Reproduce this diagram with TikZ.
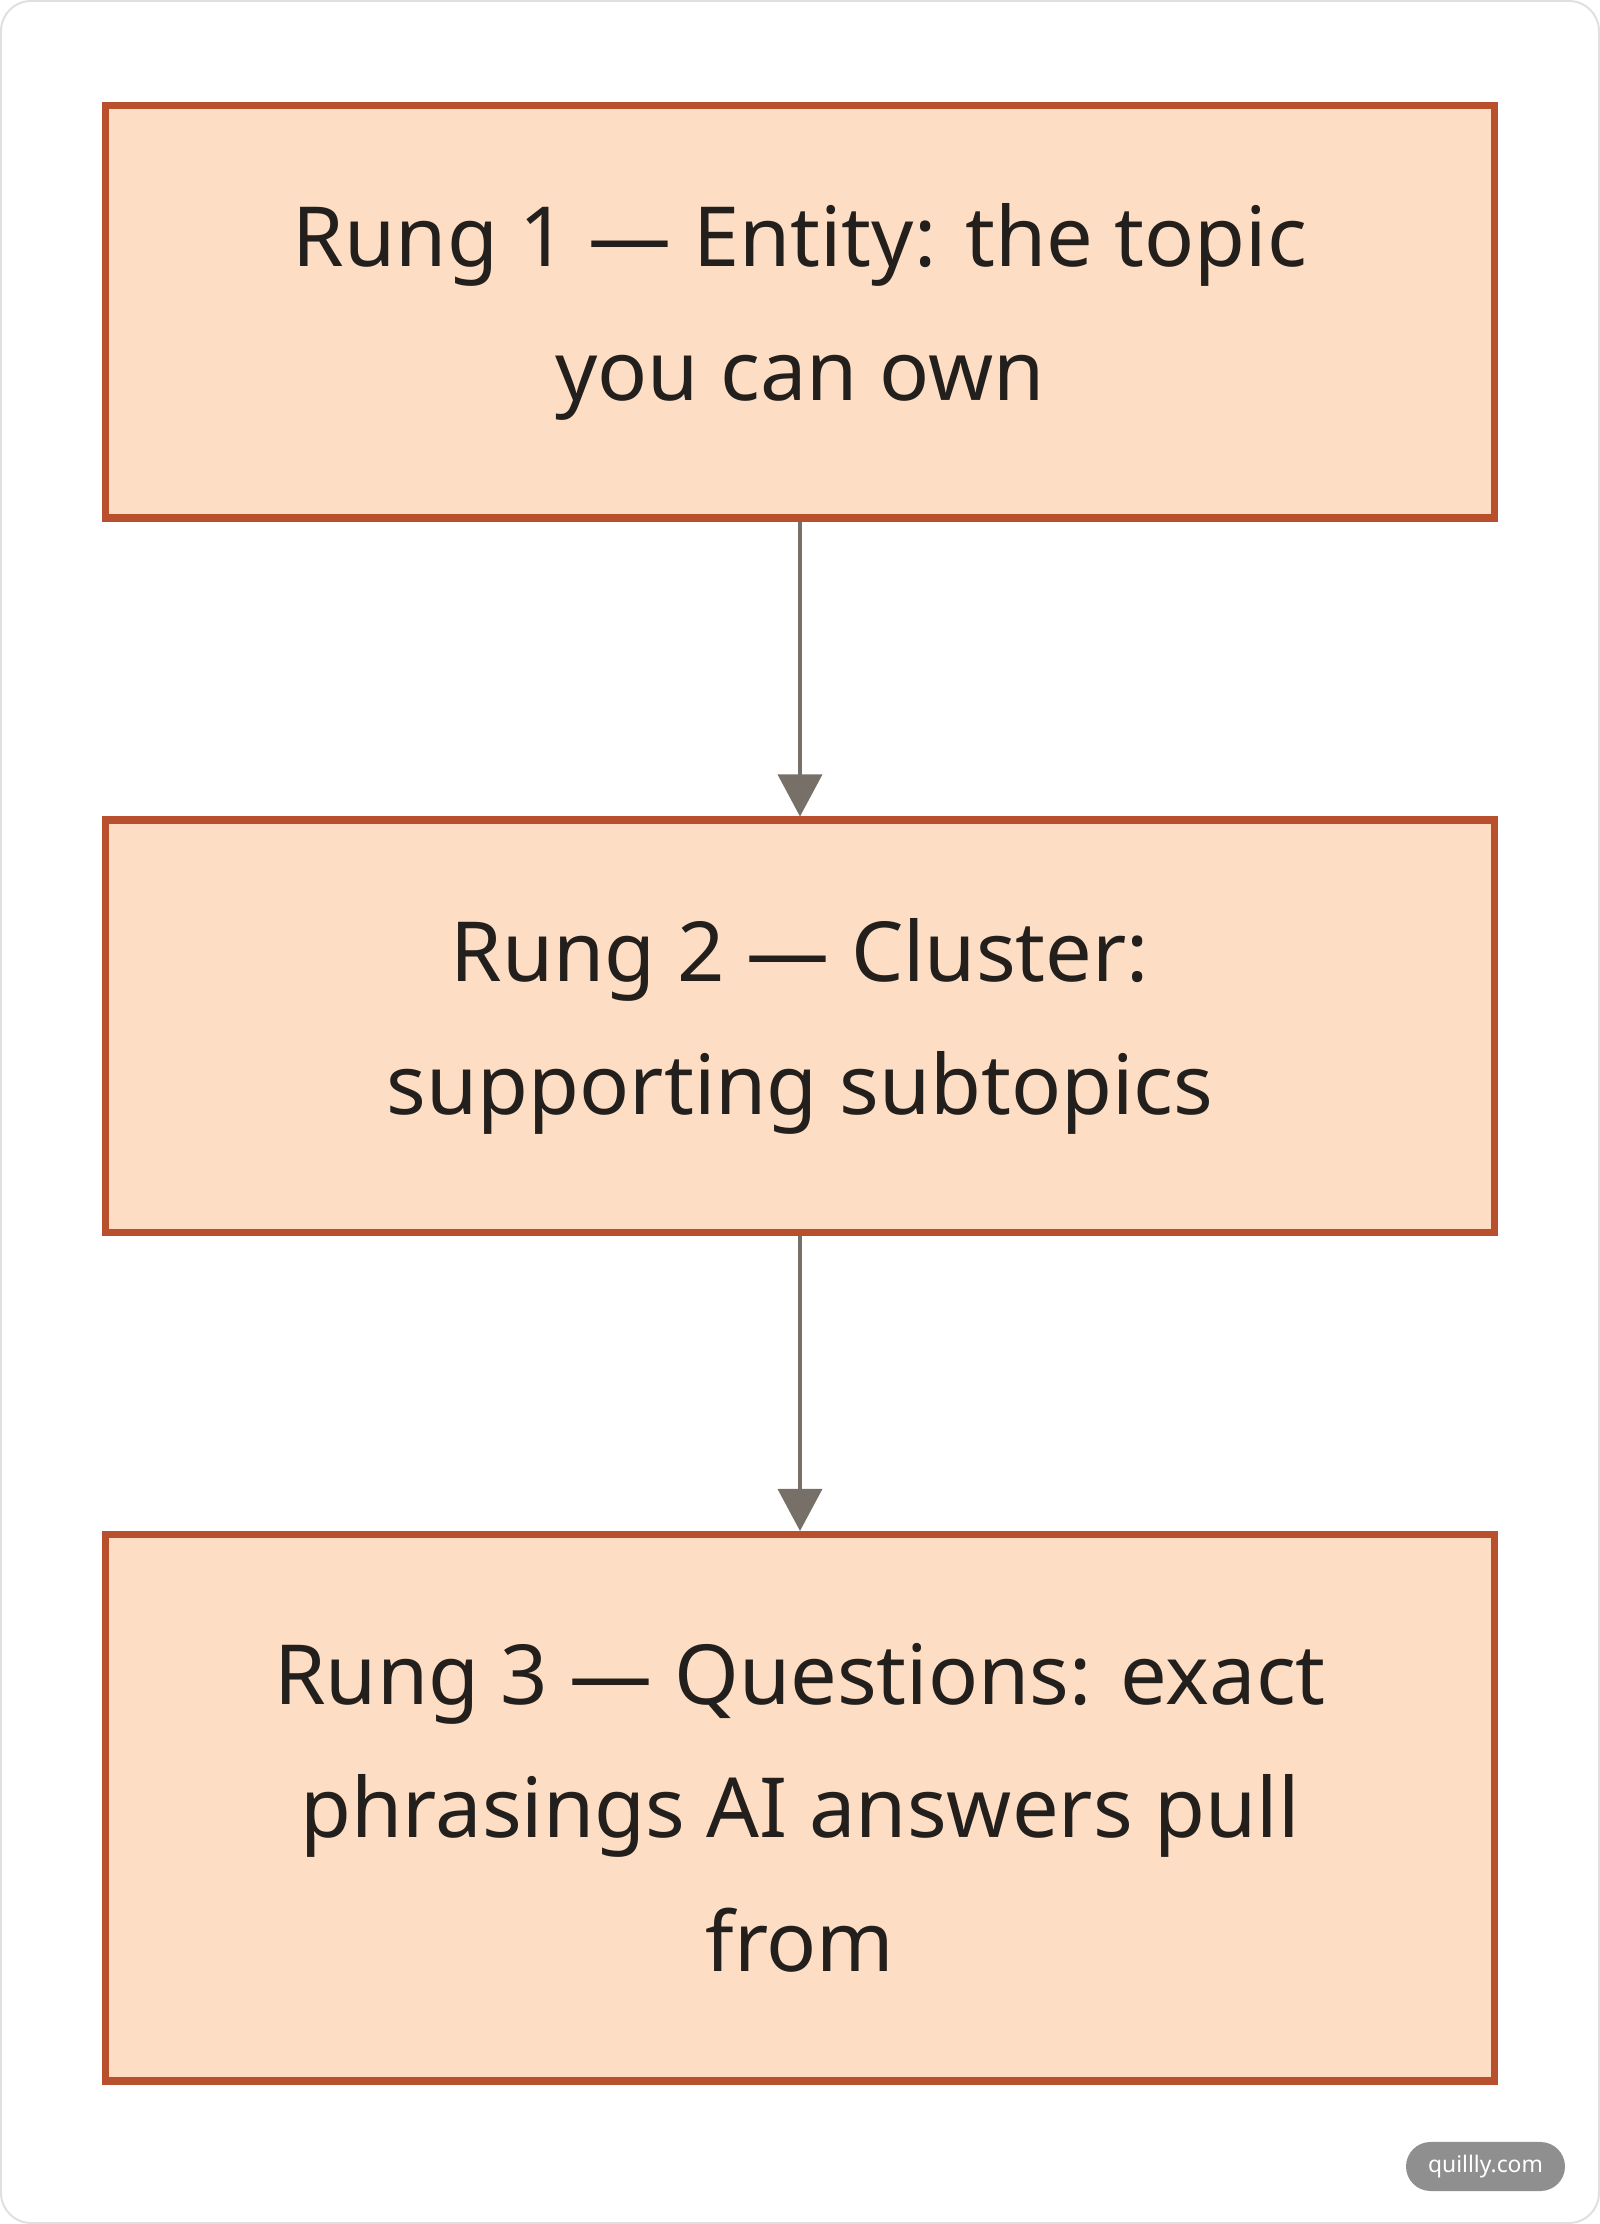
\documentclass[tikz,border=0pt]{standalone}
\usepackage{fontspec}
\setmainfont{Noto Sans}
\usepackage{xcolor}
\definecolor{peach}{HTML}{FDDEC5}
\definecolor{rust}{HTML}{B9502D}
\definecolor{ink}{HTML}{231F1C}
\definecolor{arrowgray}{HTML}{767069}
\definecolor{frame}{HTML}{E0E0E0}
\definecolor{badge}{HTML}{8F8F8F}
\usetikzlibrary{arrows.meta,positioning}

\begin{document}
\begin{tikzpicture}[
  node distance=2.945cm,
  rung/.style={rectangle,draw=rust,fill=peach,line width=0.075cm,
               minimum width=13.89cm,align=center,text=ink,
               font=\fontsize{23.6}{38}\selectfont,
               execute at begin node={\rule{0pt}{31pt}}},
  arr/.style={-{Triangle[length=0.42cm,width=0.44cm]},color=arrowgray,line width=0.035cm}]
  \useasboundingbox (0,0) rectangle (16,22.24);
  \draw[frame,line width=0.02cm,rounded corners=0.3cm] (0.01,0.01) rectangle (15.99,22.23);
  \node[rung,minimum height=4.125cm] (r1) at (8,19.12){Rung 1 --- Entity: the topic\\you can own};
  \node[rung,minimum height=4.125cm,below=of r1](r2){Rung 2 --- Cluster:\\supporting subtopics};
  \node[rung,minimum height=5.46cm,below=of r2](r3){Rung 3 --- Questions: exact\\phrasings AI answers pull\\from};
  \draw[arr](r1)--(r2);\draw[arr](r2)--(r3);
  \node[fill=badge,text=white,rounded corners=0.245cm,minimum width=1.59cm,minimum height=0.49cm,
        inner sep=0pt,font=\fontsize{6.5}{8}\selectfont\bfseries] (site) at (14.855,0.575){quillly.com};
\end{tikzpicture}
\end{document}
